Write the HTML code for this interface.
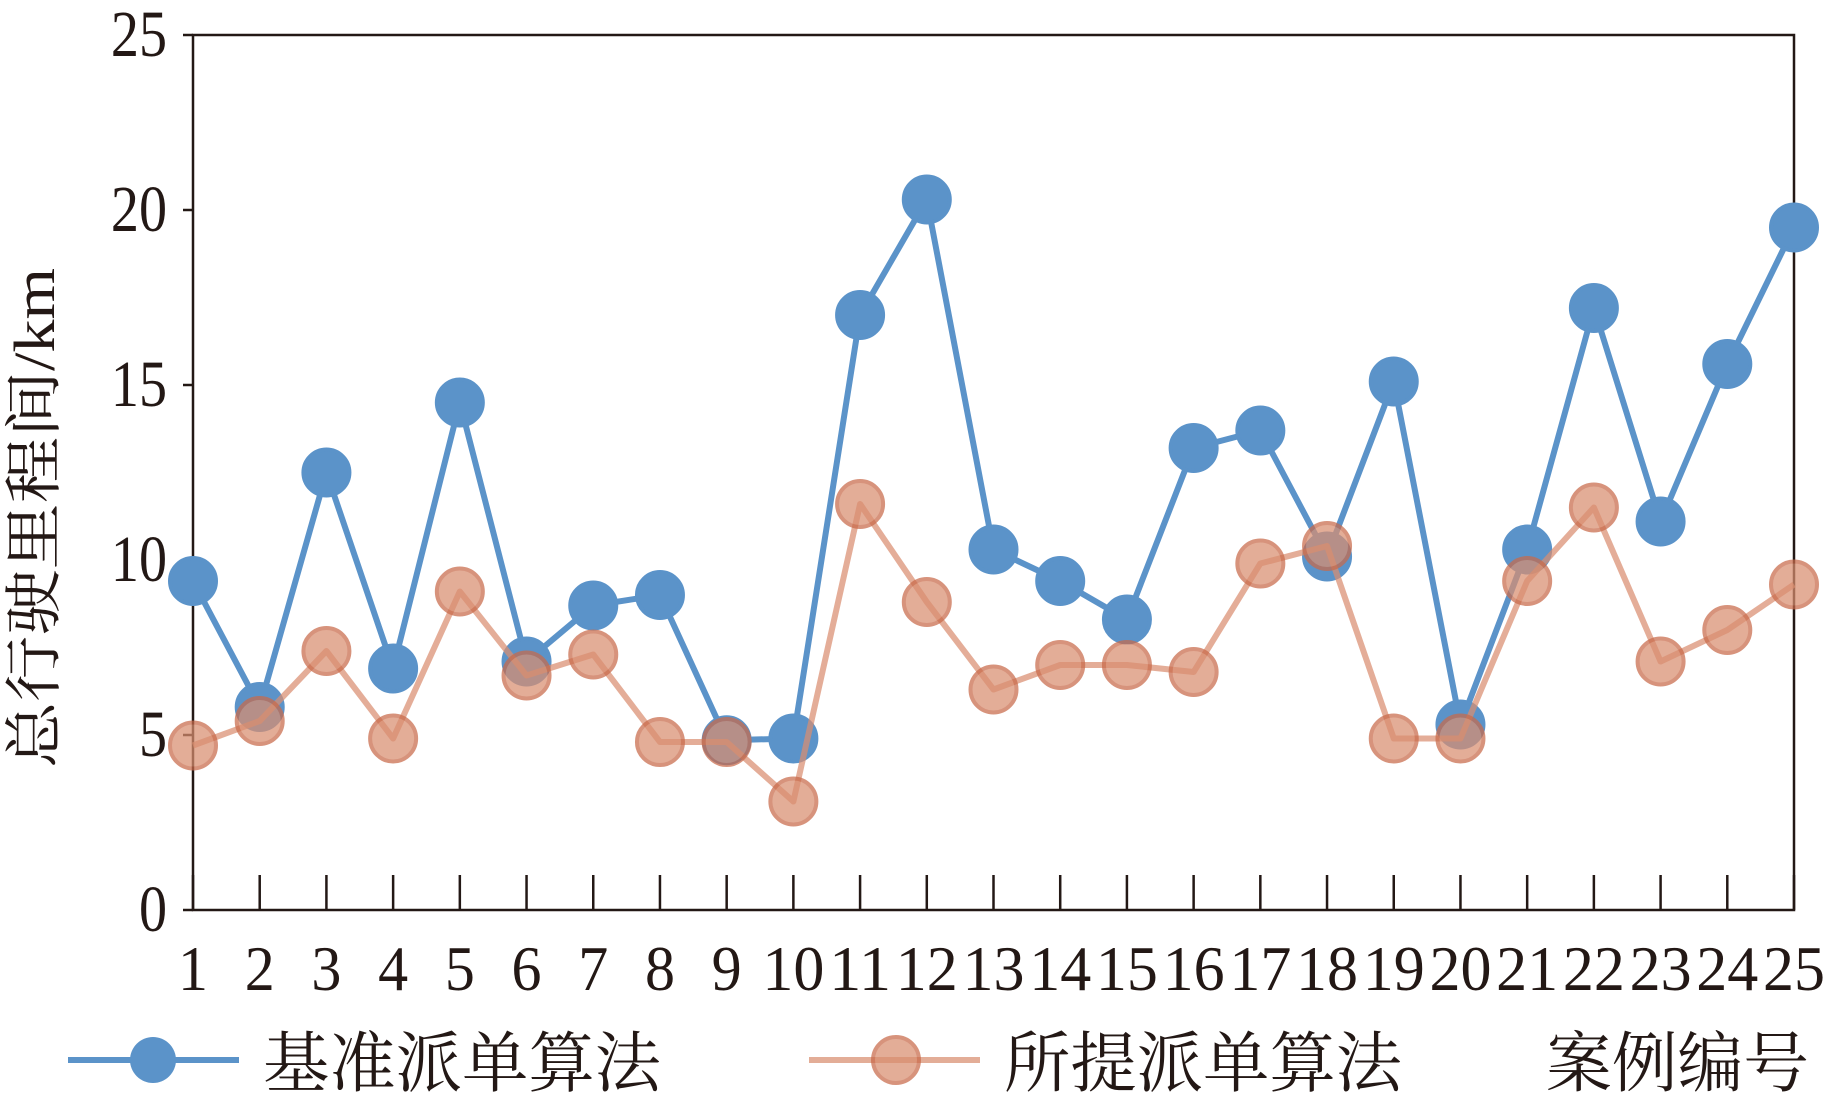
<!DOCTYPE html>
<html><head><meta charset="utf-8"><style>
body{margin:0;background:#fff;}
svg{display:block;}
text{font-family:"Liberation Serif","Noto Serif CJK SC",serif;fill:#231815;}
</style></head><body>
<svg id="chart" width="1830" height="1108" viewBox="0 0 1830 1108"></svg>
<script>
const categories=["1","2","3","4","5","6","7","8","9","10","11","12","13","14","15","16","17","18","19","20","21","22","23","24","25"];
const baselineValues=[9.4,5.8,12.5,6.9,14.5,7.1,8.7,9.0,4.85,4.9,17.0,20.3,10.3,9.4,8.3,13.2,13.7,10.1,15.1,5.3,10.3,17.2,11.1,15.6,19.5];
const proposedValues=[4.7,5.4,7.4,4.9,9.1,6.7,7.3,4.8,4.8,3.1,11.6,8.8,6.3,7.0,7.0,6.8,9.9,10.4,4.9,4.9,9.4,11.5,7.1,8.0,9.3];
const yTicks=[0,5,10,15,20,25];

const NS="http://www.w3.org/2000/svg";
const svg=document.getElementById('chart');
const L=193,R=1794,T=35,B=910;
const x=i=>L+(R-L)*i/(categories.length-1);
const y=v=>B-(B-T)*v/25;
function mk(tag,attrs,parent){const e=document.createElementNS(NS,tag);for(const k in attrs)e.setAttribute(k,attrs[k]);(parent||svg).appendChild(e);return e;}

const frame=mk('rect',{x:L,y:T,width:R-L,height:B-T,fill:'none',stroke:'#231815','stroke-width':2.5});



yTicks.forEach(v=>{
  const t=mk('line',{x1:L-10,x2:L,y1:y(v),y2:y(v),stroke:'#231815','stroke-width':2.5});
  
  
  const lb=mk('text',{transform:`translate(${L-26},${y(v)+21}) scale(0.85,1)`,'text-anchor':'end','font-size':66});
  lb.textContent=v;
  
  
});
categories.forEach((c,i)=>{
  const t=mk('line',{x1:x(i),x2:x(i),y1:B-35,y2:B,stroke:'#231815','stroke-width':2.5});
  
  
  const lb=mk('text',{x:x(i),y:B+80,'text-anchor':'middle','font-size':64});
  lb.setAttribute('textLength',c.length>1?62:30);
  lb.setAttribute('lengthAdjust','spacingAndGlyphs');
  lb.textContent=c;
  
  
});

const yt=mk('text',{transform:'translate(54,518) rotate(-90)','text-anchor':'middle','font-size':58,textLength:500,lengthAdjust:'spacingAndGlyphs'});
yt.textContent='总行驶里程间/km';



function series(vals,color,fill,stroke,op,name){
  const g=mk('g',{});
  
  
  const pl=mk('polyline',{points:vals.map((v,i)=>x(i)+','+y(v)).join(' '),fill:'none',stroke:color,'stroke-width':6,'stroke-linejoin':'round',opacity:op},g);
  
  
  vals.forEach((v,i)=>{
    const c=mk('circle',{cx:x(i),cy:y(v),r:23,fill:fill,stroke:stroke,'stroke-width':4,opacity:op},g);
    
    
  });
}
series(baselineValues,'#5b93c9','#5b93c9','#5b93c9',1,'baseline-series');
series(proposedValues,'#d98e70','#d98e70','#c96a4a',0.72,'proposed-series');

const lg=mk('g',{});


const l1=mk('line',{x1:68,x2:239,y1:1060,y2:1060,stroke:'#5b93c9','stroke-width':6},lg);


const c1=mk('circle',{cx:153,cy:1060,r:23,fill:'#5b93c9'},lg);


const t1=mk('text',{x:263,y:1086,'font-size':66,textLength:398,lengthAdjust:'spacingAndGlyphs'},lg);
t1.textContent='基准派单算法';


const l2=mk('line',{x1:809,x2:980,y1:1060,y2:1060,stroke:'#d98e70','stroke-width':6,opacity:0.72},lg);


const c2=mk('circle',{cx:896,cy:1060,r:23,fill:'#d98e70',stroke:'#c96a4a','stroke-width':4,opacity:0.72},lg);


const t2=mk('text',{x:1004,y:1086,'font-size':66,textLength:398,lengthAdjust:'spacingAndGlyphs'},lg);
t2.textContent='所提派单算法';


const xt=mk('text',{x:1546,y:1086,'font-size':66,textLength:263,lengthAdjust:'spacingAndGlyphs'});
xt.textContent='案例编号';


</script>
</body></html>
